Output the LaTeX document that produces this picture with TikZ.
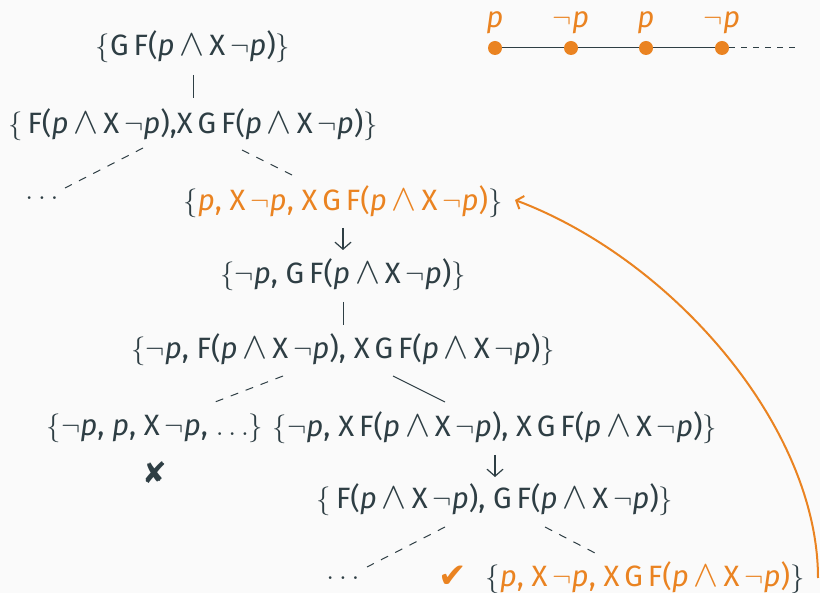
\documentclass[tikz,border=0pt]{standalone}
\usepackage{fontspec}
\usepackage{graphicx}
\setmainfont{Fira Sans}
\newfontfamily\symfont{DejaVu Sans}
\usetikzlibrary{arrows.meta, calc}
\definecolor{ink}{RGB}{46,62,68}
\definecolor{accent}{RGB}{234,131,33}
\definecolor{paper}{RGB}{250,250,250}
\newcommand{\pv}{\textit{p}}
\newcommand{\nv}{\ensuremath{\neg}}
\newcommand{\andop}{\,\scalebox{1.3}{$\wedge$}\,}
\newcommand{\lb}{\ensuremath{\{}}
\newcommand{\rb}{\ensuremath{\}}}
\newcommand{\Ff}{F(\pv\andop X\,\nv\pv)}
\newcommand{\GFf}{G\,\Ff}
\newcommand{\hl}[1]{\textcolor{accent}{#1}}

\begin{document}
\begin{tikzpicture}[x=0.5pt, y=-0.5pt,
  every node/.style={text=ink, font=\fontsize{14.7}{17}\selectfont, inner sep=1pt},
  treeline/.style={draw=ink, line width=0.5pt},
  treedash/.style={treeline, dash pattern=on 4pt off 4pt},
  stepdown/.style={draw=ink, line width=0.6pt, -{Straight Barb[length=3.5pt,width=8pt]}},
  statedot/.style={circle, fill=accent, minimum size=7pt, inner sep=0pt}]
  \fill[paper] (0,0) rectangle (820,593);
  \useasboundingbox (0,0) rectangle (820,593);

  % Tableau nodes
  \node (root) at (193,47) {\lb\GFf\rb};
  \node (split) at (193,125) {\lb\,\Ff,X\,\GFf\rb};
  \node (dotsL) at (42,198) {$\dots$};
  \node (loopA) at (343,202) {\lb\hl{\pv, X\,\nv\pv, X\,\GFf}\rb};
  \node (stepA) at (343,275) {\lb\nv\pv, \GFf\rb};
  \node (splitA) at (343,350) {\lb\nv\pv, \Ff, X\,\GFf\rb};
  \node (clash) at (155,428) {\lb\nv\pv, \pv, X\,\nv\pv, $\dots$\rb};
  \node (nextA) at (495,428) {\lb\nv\pv, X\,\Ff, X\,\GFf\rb};
  \node (cross) at (155,473) {\symfont ✘};
  \node (stepB) at (495,500) {\lb\,\Ff, \GFf\rb};
  \node (dotsR) at (343,578) {$\dots$};
  \node[text=accent, font=\fontsize{17}{19}\selectfont] (check) at (453,577) {\symfont ✔};
  \node (loopB) at (645,578) {\lb\hl{\pv, X\,\nv\pv, X\,\GFf}\rb};

  % Tableau edges
  \draw[treeline] ($(root)+(0,28)$) -- ($(split)+(0,-27)$);
  \draw[treedash] ($(split)+(-50,23)$) -- ($(dotsL)+(23,-10)$);
  \draw[treedash] ($(split)+(49,25)$) -- ($(loopA)+(-51,-27)$);
  \draw[stepdown] ($(loopA)+(0,26)$) -- ($(stepA)+(0,-25)$);
  \draw[treeline] ($(stepA)+(0,27)$) -- ($(splitA)+(0,-25)$);
  \draw[treedash] ($(splitA)+(-60,26)$) -- ($(clash)+(60,-26)$);
  \draw[treeline] ($(splitA)+(50,26)$) -- ($(nextA)+(-50,-26)$);
  \draw[stepdown] ($(nextA)+(0,27)$) -- ($(stepB)+(0,-23)$);
  \draw[treedash] ($(stepB)+(-50,27)$) -- ($(dotsR)+(24,-11)$);
  \draw[treedash] ($(stepB)+(50,27)$) -- ($(loopB)+(-50,-25)$);

  % Loop back
  \draw[accent, line width=1pt, -{Straight Barb[length=3pt,width=7pt]}]
    ($(loopB)+(173,0)$) .. controls (818,428) and (674,260) .. ($(loopA)+(172,-2)$);

  % Model word
  \foreach \i/\lab [count=\k] in {495/\pv, 571/\nv\pv, 646/\pv, 722/\nv\pv}
    \node[statedot, label={[text=accent, font=\fontsize{14.7}{17}\selectfont, label distance=2pt]above:\lab}] (t\k) at (\i,48) {};
  \coordinate (tEnd) at (800,48);
  \draw[treeline] (t1) -- (t2) -- (t3) -- (t4);
  \draw[treeline, dash pattern=on 3pt off 3pt] (t4) -- (tEnd);
\end{tikzpicture}
\end{document}
